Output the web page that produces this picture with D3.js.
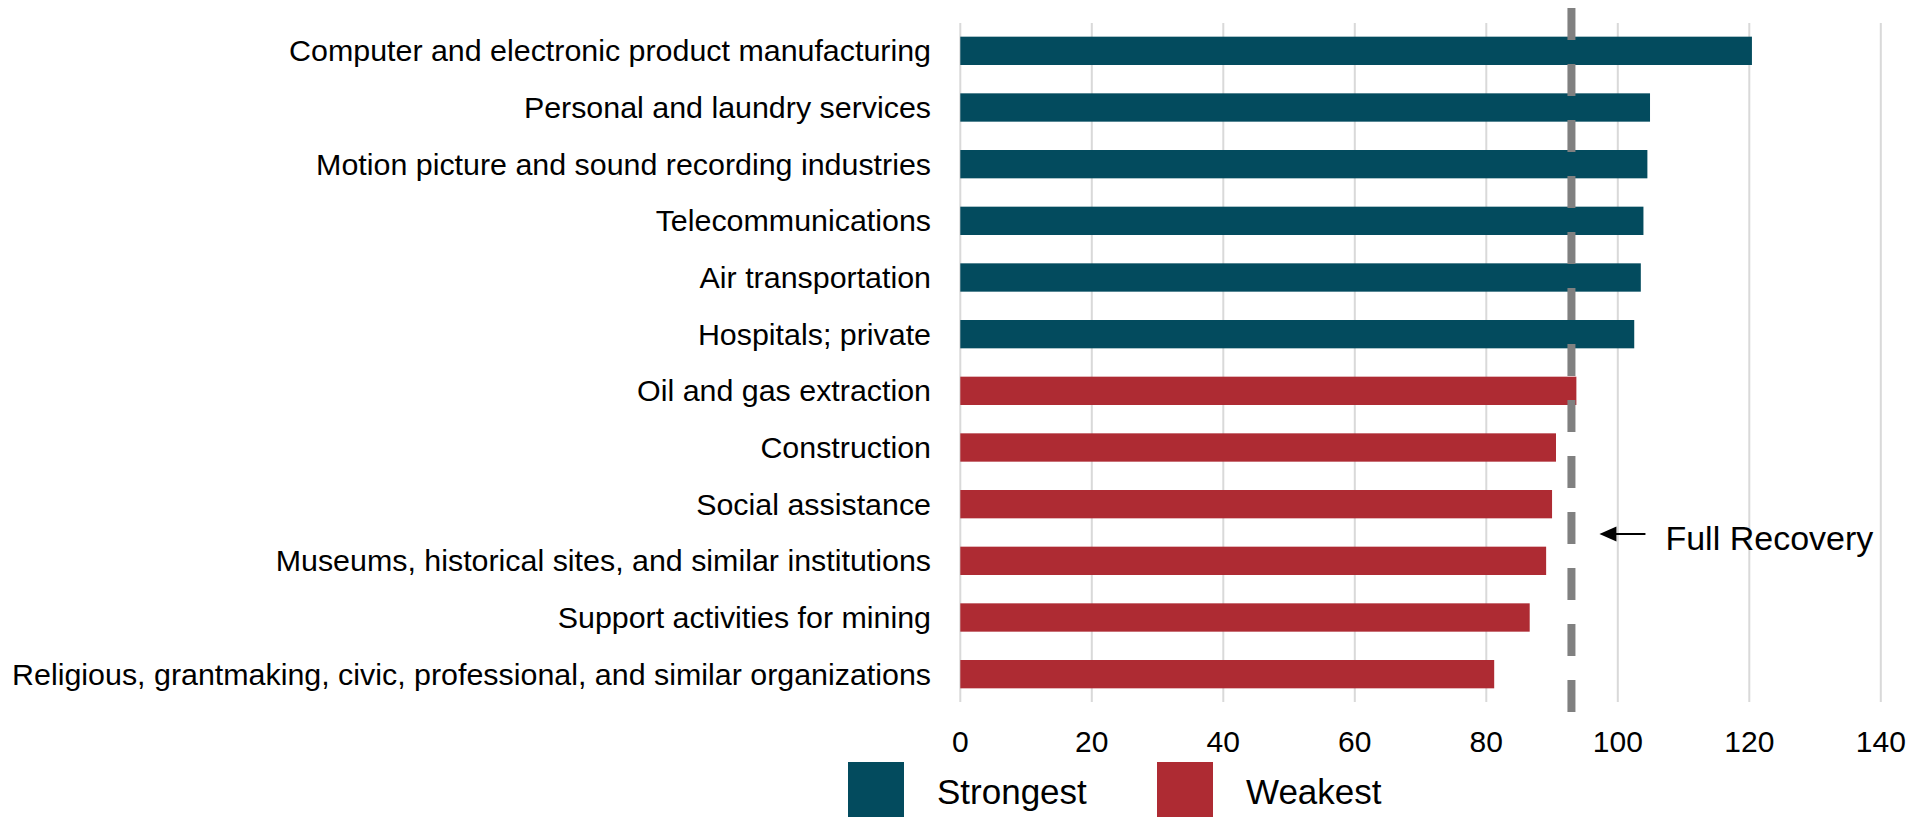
<!DOCTYPE html>
<html>
<head>
<meta charset="utf-8">
<script src="https://cdn.jsdelivr.net/npm/d3@7"></script>
<style>
  html, body { margin: 0; padding: 0; background: #ffffff; }
  svg { display: block; }
  text { font-family: "Liberation Sans", Arial, sans-serif; fill: #000; }
</style>
</head>
<body>
<svg id="chart" width="1921" height="817"></svg>
<script>
const categories = [
  "Computer and electronic product manufacturing",
  "Personal and laundry services",
  "Motion picture and sound recording industries",
  "Telecommunications",
  "Air transportation",
  "Hospitals; private",
  "Oil and gas extraction",
  "Construction",
  "Social assistance",
  "Museums, historical sites, and similar institutions",
  "Support activities for mining",
  "Religious, grantmaking, civic, professional, and similar organizations"
];
const values = [120.4, 104.9, 104.5, 103.9, 103.5, 102.5, 93.7, 90.6, 90.0, 89.1, 86.6, 81.2];
const groups = ["Strongest", "Strongest", "Strongest", "Strongest", "Strongest", "Strongest",
                "Weakest", "Weakest", "Weakest", "Weakest", "Weakest", "Weakest"];
const seriesNames = ["Strongest", "Weakest"];
const seriesColors = ["#034b5e", "#ae2b33"];
const xTicks = [0, 20, 40, 60, 80, 100, 120, 140];
const recoveryValue = 92.95;
const recoveryLabel = "Full Recovery";

const svg = d3.select("#chart");
const x = d3.scaleLinear().domain([0, 140]).range([960.3, 1880.8]);
const y = d3.scaleBand().domain(categories).range([22.5, 702.5]).paddingInner(0.5).paddingOuter(0.25);
const color = d3.scaleOrdinal().domain(seriesNames).range(seriesColors);

// gridlines
svg.append("g").selectAll("line").data(xTicks).join("line")
  .attr("x1", d => x(d)).attr("x2", d => x(d))
  .attr("y1", 23).attr("y2", 702)
  .attr("stroke", "#d9d9d9").attr("stroke-width", 2);

// tick labels
svg.append("g").selectAll("text").data(xTicks).join("text")
  .attr("x", d => x(d)).attr("y", 752)
  .attr("text-anchor", "middle")
  .style("font-size", "30px")
  .text(d => d);

// bars
svg.append("g").selectAll("rect").data(categories).join("rect")
  .attr("x", x(0))
  .attr("y", d => y(d))
  .attr("width", (d, i) => x(values[i]) - x(0))
  .attr("height", y.bandwidth())
  .attr("fill", (d, i) => color(groups[i]));

// category labels
svg.append("g").selectAll("text").data(categories).join("text")
  .attr("x", 931)
  .attr("y", d => y(d) + y.bandwidth() / 2)
  .attr("dy", "0.35em")
  .attr("text-anchor", "end")
  .style("font-size", "30.4px")
  .text(d => d);

// full recovery line
const xr = x(recoveryValue);
svg.append("line")
  .attr("x1", xr).attr("x2", xr)
  .attr("y1", 8).attr("y2", 712)
  .attr("stroke", "#808080").attr("stroke-width", 8)
  .attr("stroke-dasharray", "32,24");

// arrow annotation
const ay = 534;
svg.append("line")
  .attr("x1", xr + 74).attr("x2", xr + 40)
  .attr("y1", ay).attr("y2", ay)
  .attr("stroke", "#000").attr("stroke-width", 2.2);
svg.append("path")
  .attr("d", `M${xr + 28},${ay} L${xr + 45},${ay - 7.5} L${xr + 45},${ay + 7.5} Z`)
  .attr("fill", "#000");
svg.append("text")
  .attr("x", xr + 94).attr("y", 550)
  .style("font-size", "34px")
  .text(recoveryLabel);

// legend
const legendX = [848, 1157];
const lg = svg.append("g").selectAll("g").data(seriesNames).join("g");
lg.append("rect")
  .attr("x", (d, i) => legendX[i]).attr("y", 762)
  .attr("width", 56).attr("height", 56)
  .attr("fill", d => color(d));
lg.append("text")
  .attr("x", (d, i) => legendX[i] + 89).attr("y", 804)
  .style("font-size", "35px")
  .text(d => d);
</script>
</body>
</html>
